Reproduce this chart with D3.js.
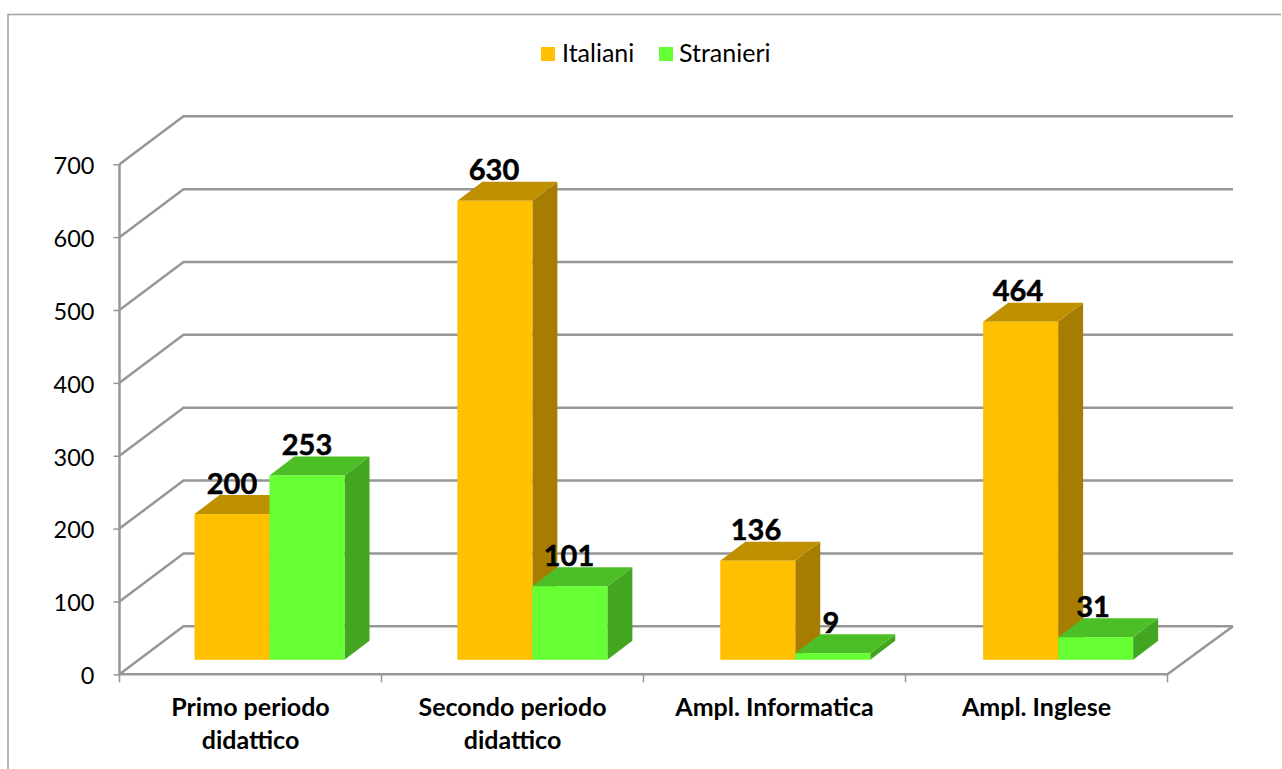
<!DOCTYPE html>
<html><head><meta charset="utf-8">
<script src="https://cdn.jsdelivr.net/npm/d3@7"></script>
<style>html,body{margin:0;padding:0;background:#fff}svg{display:block;font-family:Lato,sans-serif}</style>
</head><body>
<svg id="c" width="1282" height="769"></svg>
<script>
const categories = [["Primo periodo","didattico"],["Secondo periodo","didattico"],["Ampl. Informatica"],["Ampl. Inglese"]];
const seriesNames = ["Italiani","Stranieri"];
const italiani = [200,630,136,464];
const stranieri = [253,101,9,31];
const yTicks = [0,100,200,300,400,500,600,700];

const svg = d3.select("#c");
const x = d3.scaleBand().domain(d3.range(categories.length)).range([119.5,1167.5]);
const xBars = d3.scaleBand().domain(d3.range(categories.length)).range([119.5,1171]);
const y = d3.scaleLinear().domain([0,700]).range([674.3,164.3]);
const wall = {dx:64,dy:-48,right:1233};
const gap = {dy:-14.5}, depth = {dx:25,dy:-19};
const sub = d3.scaleBand().domain([0,1]).range([75,225]);
const palette = [
  {front:"#FFC000",top:"#BF9000",side:"#A67D00"},
  {front:"#66FF33",top:"#4DBF26",side:"#43A621"}];
const gridColor = "#979797";

svg.append("path").attr("d","M8,769V14.5H1281").attr("fill","none").attr("stroke","#a0a0a0").attr("stroke-width",1.5);

const g = svg.append("g").attr("fill","none").attr("stroke",gridColor).attr("stroke-width",2.5);
g.selectAll("path.grid").data(yTicks).join("path").attr("class","grid")
 .attr("d",d=>`M${x.range()[0]},${y(d)}l${wall.dx},${wall.dy}H${wall.right}`);
g.append("path").attr("d",`M${wall.right},${y(0)+wall.dy}L${x.range()[1]},${y(0)}H${x.range()[0]}V${y(700)}`);

const yAxis = svg.append("g").attr("transform",`translate(${x.range()[0]},0)`)
  .call(d3.axisLeft(y).tickValues(yTicks).tickSize(6).tickPadding(19).tickFormat(d3.format("d")));
yAxis.select(".domain").remove();
yAxis.selectAll("line").attr("stroke",gridColor).attr("stroke-width",1.5);
yAxis.selectAll("text").attr("font-size",23.5).attr("font-family","Lato,sans-serif").attr("fill","#000").attr("dy","0.4em");

const ticksX = [...x.domain().map(i=>x(i)),x.range()[1]];
svg.append("g").selectAll("line").data(ticksX).join("line")
 .attr("x1",d=>d).attr("x2",d=>d).attr("y1",y(0)).attr("y2",y(0)+8)
 .attr("stroke",gridColor).attr("stroke-width",1.5);

const bars = [];
categories.forEach((c,i)=>{[italiani,stranieri].forEach((s,k)=>bars.push({i,k,v:s[i]}));});
const bw = sub.bandwidth();
const marks = svg.append("g");
bars.forEach(b=>{
  const x0 = xBars(b.i)+sub(b.k), x1 = x0+bw;
  const base = y(0)+gap.dy, top = y(b.v)+gap.dy;
  const p = palette[b.k], gr = marks.append("g");
  gr.append("path").attr("fill",p.side).attr("d",`M${x1},${top}l${depth.dx},${depth.dy}V${base+depth.dy}L${x1},${base}Z`);
  gr.append("path").attr("fill",p.top).attr("d",`M${x0},${top}l${depth.dx},${depth.dy}H${x1+depth.dx}L${x1},${top}Z`);
  gr.append("rect").attr("fill",p.front).attr("x",x0).attr("y",top).attr("width",bw).attr("height",base-top);
});
svg.append("g").selectAll("text").data(bars).join("text")
 .attr("x",d=>x(d.i)+sub(d.k)+bw/2).attr("y",d=>y(d.v)+gap.dy-20.5)
 .attr("text-anchor","middle").attr("font-size",29).attr("font-weight",700).attr("fill","#000")
 .attr("stroke","#000").attr("stroke-width",0.5)
 .text(d=>d.v);

const cat = svg.append("g").selectAll("text").data(categories).join("text")
 .attr("text-anchor","middle").attr("font-size",25).attr("font-weight",700).attr("fill","#000");
cat.each(function(lines,i){
  d3.select(this).selectAll("tspan").data(lines).join("tspan")
   .attr("x",x(i)+x.bandwidth()/2).attr("y",(d,j)=>716+j*33).text(d=>d);
});

const legendX = [541,659], legendTextX=[562,679];
const lg = svg.append("g");
seriesNames.forEach((n,i)=>{
  lg.append("rect").attr("x",legendX[i]).attr("y",47).attr("width",14).attr("height",14).attr("fill",palette[i].front);
  lg.append("text").attr("x",legendTextX[i]).attr("y",62).attr("font-size",25).attr("fill","#000").text(n);
});
</script></body></html>
